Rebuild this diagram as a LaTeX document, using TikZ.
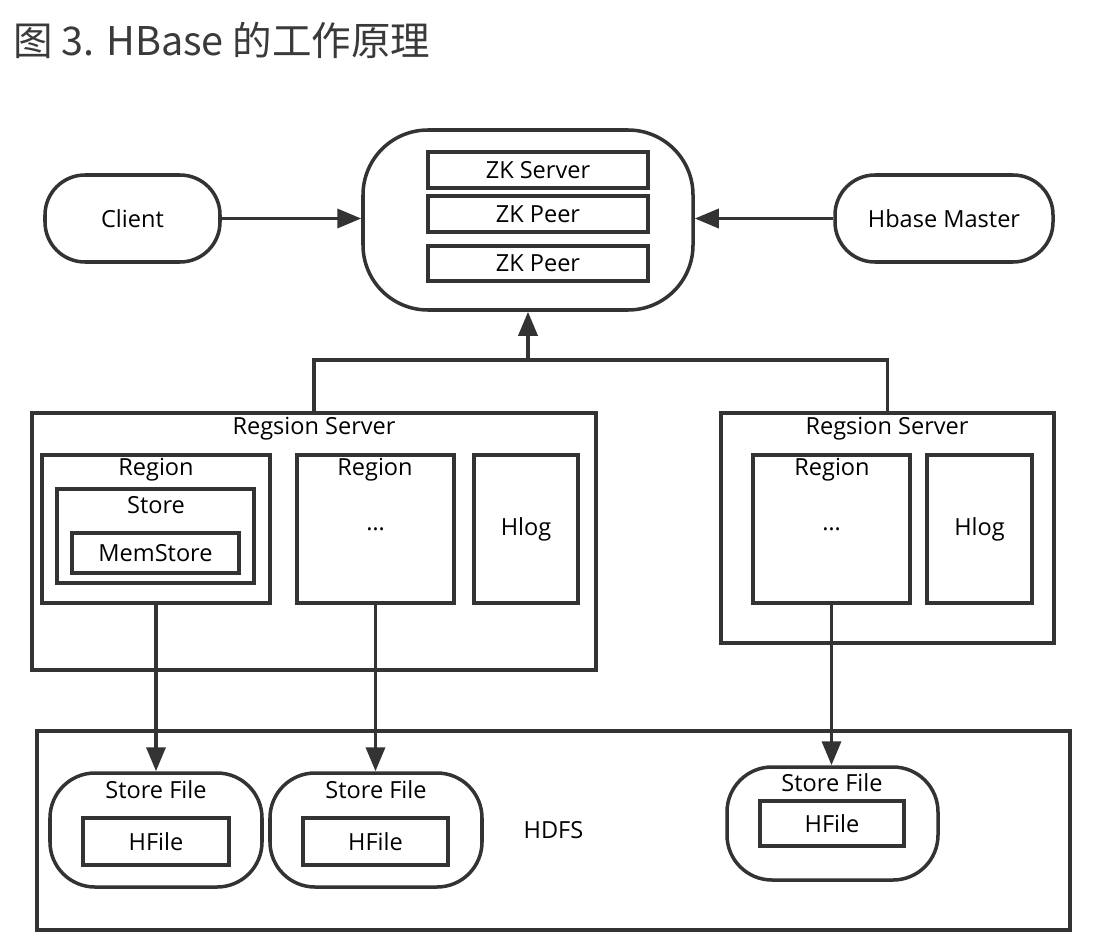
\documentclass[tikz,border=0pt]{standalone}
\usepackage{fontspec}
\setmainfont{Open Sans}
\newfontfamily\cjkfont{Noto Sans CJK SC}
\usetikzlibrary{arrows.meta,fit}

\definecolor{linegray}{HTML}{333333}
\definecolor{titlegray}{HTML}{3A3A3A}

\tikzset{
  box/.style={draw=linegray, line width=2pt, inner sep=0pt},
  arr/.style={draw=linegray, line width=2pt, -{Triangle[length=0.48cm,width=0.38cm]}},
  plain/.style={draw=linegray, line width=2pt},
}

\begin{document}
\begin{tikzpicture}[x=0.02cm, y=-0.02cm,
    every node/.style={font=\fontsize{13.4}{16}\selectfont}]
    \useasboundingbox (0,0) rectangle (1112,946);
    \node[anchor=west, text=titlegray, font=\cjkfont\fontsize{22.5}{27}\selectfont] (title) at (7,40) {图 3. HBase 的工作原理};

    % zookeeper, client, master
    \node[box, rounded corners=1.3cm, fit={(363,130)(693,310)}] (zk) {};
    \node[box, fit={(428,152)(648,188)}, label=center:ZK Server] (zkserver) {};
    \node[box, fit={(428,196)(648,232)}, label=center:ZK Peer] (zkpeerA) {};
    \node[box, fit={(428,246)(648,281)}, label=center:ZK Peer] (zkpeerB) {};
    \node[box, rounded corners=0.8cm, fit={(45,175)(220,262)}, label=center:Client] (client) {};
    \node[box, rounded corners=0.8cm, fit={(835,175)(1053,262)}, label=center:Hbase Master] (master) {};
    \draw[arr] (client.east) -- (client.east -| zk.west);
    \draw[arr] (master.west) -- (master.west -| zk.east);

    % region servers
    \node[box, fit={(32,413)(596,670)}] (rsA) {};
    \node (rsAlbl) at (314,429) {Regsion Server};
    \node[box, fit={(42,455)(270,603)}] (regA) {};
    \node (regAlbl) at (156,470) {Region};
    \node[box, fit={(57,489)(254,583)}] (store) {};
    \node (storelbl) at (156,505) {Store};
    \node[box, fit={(72,533)(239,573)}, label=center:MemStore] (memstore) {};
    \node[box, fit={(297,455)(454,603)}, label={center:\ldots}] (regB) {};
    \node (regBlbl) at (375,470) {Region};
    \node[box, fit={(474,455)(578,603)}, label=center:Hlog] (hlogA) {};

    \node[box, fit={(721,413)(1054,643)}] (rsB) {};
    \node (rsBlbl) at (887,429) {Regsion Server};
    \node[box, fit={(753,455)(910,603)}, label={center:\ldots}] (regC) {};
    \node (regClbl) at (832,470) {Region};
    \node[box, fit={(927,455)(1032,603)}, label=center:Hlog] (hlogB) {};

    \coordinate (join) at (528,360);
    \draw[plain] (rsA.north) |- (join) -| (rsB.north);
    \draw[arr] (join) -- (zk.south);

    % hdfs
    \node[box, fit={(37,731)(1070,930)}, label=center:HDFS] (hdfs) {};
    \node[box, rounded corners=0.9cm, fit={(50,773)(262,887)}] (sfA) {};
    \node (sfAlbl) at (156,790) {Store File};
    \node[box, fit={(83,818)(229,865)}, label=center:HFile] (hfA) {};
    \node[box, rounded corners=0.9cm, fit={(270,773)(482,887)}] (sfB) {};
    \node (sfBlbl) at (376,790) {Store File};
    \node[box, fit={(303,818)(448,865)}, label=center:HFile] (hfB) {};
    \node[box, rounded corners=0.9cm, fit={(727,767)(938,880)}] (sfC) {};
    \node (sfClbl) at (832,783) {Store File};
    \node[box, fit={(760,801)(904,846)}, label=center:HFile] (hfC) {};

    \draw[arr] (regA.south) -- (regA.south |- sfA.north);
    \draw[arr] (regB.south) -- (regB.south |- sfB.north);
    \draw[arr] (regC.south) -- (regC.south |- sfC.north);
\end{tikzpicture}
\end{document}
